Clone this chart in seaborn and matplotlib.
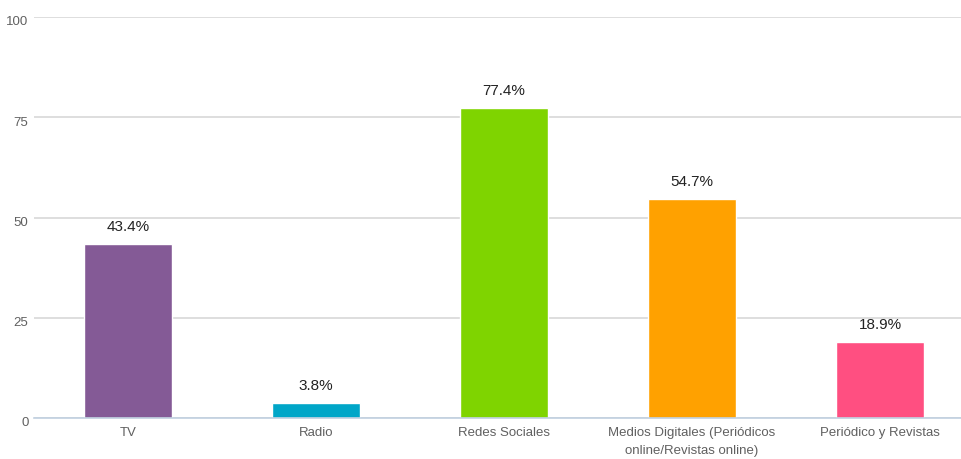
import matplotlib
matplotlib.use("Agg")
import matplotlib.pyplot as plt
import seaborn as sns
import pandas as pd
from matplotlib.transforms import ScaledTranslation

categories = ["TV", "Radio", "Redes Sociales",
              "Medios Digitales (Periódicos\nonline/Revistas online)",
              "Periódico y Revistas"]
values = [43.4, 3.8, 77.4, 54.7, 18.9]
labels = ["43.4%", "3.8%", "77.4%", "54.7%", "18.9%"]
colors = ["#845A96", "#00A6C8", "#7FD400", "#FFA100", "#FF4F81"]
yticks = [0, 25, 50, 75, 100]

sns.set_theme(style="white")
plt.rcParams['font.family'] = ['Liberation Sans Narrow', 'Liberation Sans', 'DejaVu Sans']

df = pd.DataFrame({"cat": categories, "val": values})

fig = plt.figure(figsize=(9.62, 4.6), dpi=100)
W, H = 962, 460
left, right, top, bottom = 34, 974, 18, 419
ax = fig.add_axes([left / W, (H - bottom) / H, (right - left) / W, (bottom - top) / H])

sns.barplot(data=df, x="cat", y="val", hue="cat", palette=colors, legend=False,
            width=0.47, ax=ax, saturation=1, zorder=3)

ax.set_xlim(-0.5, len(categories) - 0.5)
ax.set_ylim(0, 100)
ax.set_yticks(yticks)
ax.set_yticklabels([str(t) for t in yticks])
ax.set_xlabel("")
ax.set_ylabel("")

for sp in ["top", "right", "left"]:
    ax.spines[sp].set_visible(False)
ax.spines["bottom"].set_color("#C0D0E0")
ax.spines["bottom"].set_linewidth(1.2)
ax.spines["bottom"].set_zorder(4)

ax.yaxis.grid(True, color="#D8D8D8", linewidth=1.2, zorder=0)
ax.set_axisbelow(True)

ax.tick_params(axis="y", length=0, pad=4, labelsize=9.5, labelcolor="#606060")
ax.tick_params(axis="x", length=0, pad=6, labelsize=9.5, labelcolor="#606060")
for t in ax.get_xticklabels():
    t.set_linespacing(1.65)
offset = ScaledTranslation(0, -2 / 72, fig.dpi_scale_trans)
for t in ax.get_yticklabels():
    t.set_transform(t.get_transform() + offset)

# category boundary ticks
ax.set_xticks([i + 0.5 for i in range(len(categories) - 1)], minor=True)
ax.tick_params(axis="x", which="minor", length=6, width=1, color="#C0D0E0", direction="out")

for i, (v, lab) in enumerate(zip(values, labels)):
    ax.annotate(lab, (i, v), xytext=(0, 8), textcoords="offset points",
                ha="center", va="bottom", fontsize=11, color="#222222")

fig.savefig("out.png", dpi=100)
